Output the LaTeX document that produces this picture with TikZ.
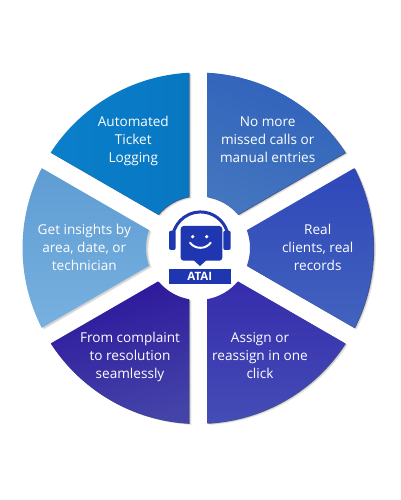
\documentclass[tikz,border=0pt]{standalone}
\usepackage{fontspec}
\setmainfont{Open Sans}
\usepackage{tikz}
\usetikzlibrary{calc,positioning}
\definecolor{TicketBlue}{HTML}{0A7FCB}
\definecolor{TicketBlueB}{HTML}{0877C2}
\definecolor{CallsBlue}{HTML}{2F62BB}
\definecolor{CallsBlueB}{HTML}{4475BF}
\definecolor{RecordsBlue}{HTML}{2F47B9}
\definecolor{RecordsBlueB}{HTML}{4263BE}
\definecolor{AssignBlue}{HTML}{362CAC}
\definecolor{AssignBlueB}{HTML}{444DB6}
\definecolor{ResolveBlue}{HTML}{2C169B}
\definecolor{ResolveBlueB}{HTML}{4443A9}
\definecolor{InsightBlue}{HTML}{5E9CD2}
\definecolor{InsightBlueB}{HTML}{78B1E0}
\definecolor{IconBlue}{HTML}{1E36B0}
\definecolor{EdgeBlue}{HTML}{16285F}
\newcommand{\wedgepath}[1]{({#1+32.94}:175.5) arc[start angle={#1+32.94},end angle={#1+87.06},radius=175.5] -- ({#1+80.03}:52) arc[start angle={#1+80.03},end angle={#1+39.97},radius=52] -- cycle}
\tikzset{
  wedgeshadow/.style={fill=black,opacity=0.09},
  wedgeedge/.style={fill=EdgeBlue,opacity=0.75},
  wedgetext/.style={text=white,align=center,font=\fontsize{13.6}{18}\selectfont}
}
\begin{document}
\begin{tikzpicture}[x=1pt,y=1pt]
\useasboundingbox (-198,-252) rectangle (202,248);
\fill[white] (-198,-252) rectangle (202,248);

\fill[wedgeshadow,shift={(2.4,-1.6)}] \wedgepath{0};
\fill[wedgeshadow,shift={(1.6,-1)}] \wedgepath{0};
\fill[wedgeedge,shift={(0.7,-0.5)}] \wedgepath{0};
\shade[left color=CallsBlue,right color=CallsBlueB,shading angle=-20] \wedgepath{0};

\fill[wedgeshadow,shift={(2.4,-1.6)}] \wedgepath{-60};
\fill[wedgeshadow,shift={(1.6,-1)}] \wedgepath{-60};
\fill[wedgeedge,shift={(0.7,-0.5)}] \wedgepath{-60};
\shade[top color=RecordsBlue,bottom color=RecordsBlueB] \wedgepath{-60};

\fill[wedgeshadow,shift={(2.4,-1.6)}] \wedgepath{-120};
\fill[wedgeshadow,shift={(1.6,-1)}] \wedgepath{-120};
\fill[wedgeedge,shift={(0.5,-0.5)}] \wedgepath{-120};
\shade[top color=AssignBlue,bottom color=AssignBlueB] \wedgepath{-120};

\fill[wedgeshadow,shift={(2.4,-1.6)}] \wedgepath{-180};
\fill[wedgeshadow,shift={(1.6,-1)}] \wedgepath{-180};
\fill[wedgeedge,shift={(0.7,-0.6)}] \wedgepath{-180};
\shade[top color=ResolveBlue,bottom color=ResolveBlueB,shading angle=15] \wedgepath{-180};

\fill[wedgeshadow,shift={(2.4,-1.6)}] \wedgepath{-240};
\fill[wedgeshadow,shift={(1.6,-1)}] \wedgepath{-240};
\shade[top color=InsightBlue,bottom color=InsightBlueB] \wedgepath{-240};

\fill[wedgeshadow,shift={(2.4,-1.6)}] \wedgepath{-300};
\fill[wedgeshadow,shift={(1.6,-1)}] \wedgepath{-300};
\fill[wedgeedge,shift={(0.7,-0.5)}] \wedgepath{-300};
\shade[left color=TicketBlue,right color=TicketBlueB] \wedgepath{-300};

\node[wedgetext] (ticket) at (-64.7,106.7) {Automated\\Ticket\\Logging};
\node[wedgetext] (calls) at (69.7,108.2) {No more\\missed calls or\\manual entries};
\node[wedgetext] (records) at (119.7,0.3) {Real\\clients, real\\records};
\node[wedgetext] (assign) at (62,-107.3) {Assign or\\reassign in one\\click};
\node[wedgetext] (resolve) at (-68,-108.8) {From complaint\\to resolution\\seamlessly};
\node[wedgetext] (insight) at (-113.7,0.3) {Get insights by\\area, date, or\\technician};

\draw[IconBlue,line width=3pt] (-25.1,12.9) arc[start angle=170,end angle=10,radius=28];
\fill[IconBlue,rounded corners=2pt] (-29,17.3) rectangle (-22.3,-2);
\fill[IconBlue,rounded corners=2pt] (25.3,17.3) rectangle (32.7,-2);
\fill[IconBlue,rounded corners=3pt] (-17.3,22) rectangle (24.3,-12.7);
\fill[IconBlue] (-4.7,-12) -- (2,-18) -- (8.7,-12) -- cycle;
\fill[white] (-5.3,11.3) circle (1.8pt);
\fill[white] (8.7,11.3) circle (1.8pt);
\draw[white,line width=2pt,line cap=round] (-8,5.3) .. controls (-3,-1.5) and (7.7,-1.5) .. (12.7,5.3);
\node[fill=IconBlue,text=white,minimum width=61.7pt,minimum height=15pt,inner sep=0pt,font=\fontsize{11.5}{12}\selectfont\bfseries] (atai) at (1.85,-28.8) {ATAI};

\end{tikzpicture}
\end{document}
